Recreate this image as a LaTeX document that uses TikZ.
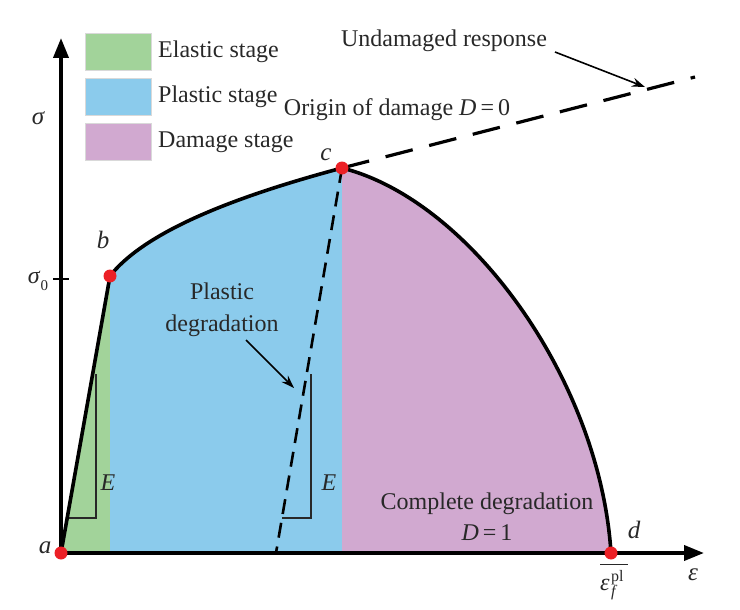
\documentclass[tikz,border=0pt]{standalone}
\usepackage{amsmath}
\usepackage{fontspec}
\setmainfont{Liberation Serif}
\usetikzlibrary{arrows.meta}
\definecolor{elastic}{RGB}{162,211,154}
\definecolor{plastic}{RGB}{139,203,236}
\definecolor{damage}{RGB}{209,169,208}
\definecolor{ptred}{RGB}{236,32,38}
\definecolor{txt}{RGB}{40,40,40}
\begin{document}
\begin{tikzpicture}[x=1pt,y=-1pt,
  lbl/.style={text=txt,font=\fontsize{24}{27}\selectfont,inner sep=0pt},
  axis/.style={line width=3.8pt,-{Triangle[length=20pt,width=15pt]}},
  curve/.style={line width=3.6pt},
  dashline/.style={line width=3.2pt},
  slope/.style={line width=1.4pt,txt},
  pointer/.style={line width=1.6pt,-{Stealth[length=13pt,width=9pt]}},
  dot/.style={circle,fill=ptred,minimum size=13pt,inner sep=0pt},
  legbox/.style={draw=white!85!black,line width=0.8pt,minimum width=66pt,minimum height=37pt,inner sep=0pt}]
\useasboundingbox (0,0) rectangle (740,610);
% key points
\coordinate (a) at (61,553);
\coordinate (b) at (110,276);
\coordinate (c) at (342,168);
\coordinate (d) at (611,553);
\coordinate (bb) at (110,553);
\coordinate (cb) at (342,553);
% fills
\fill[elastic] (a) -- (b) -- (bb) -- cycle;
\fill[plastic] (bb) -- (b) .. controls (150,225) and (260,190) .. (c) -- (cb) -- cycle;
\fill[damage] (cb) -- (c) .. controls (470,200) and (600,380) .. (d) -- cycle;
% dashed lines
\coordinate (u) at (695,77);
\coordinate (p) at (276,553);
\draw[dashline,dash pattern=on 28pt off 17pt] (c) -- (u);
\draw[dashline,line width=2.6pt,dash pattern=on 15pt off 9pt] (c) -- (p);
% slope triangles
\draw[slope] (67,518) -- (96,518) -- (96,374);
\node[lbl,font=\fontsize{24}{27}\selectfont\itshape] (e1) at (108,483) {E};
\draw[slope] (282,518) -- (311,518) -- (311,374);
\node[lbl,font=\fontsize{24}{27}\selectfont\itshape] (e2) at (329,483) {E};
% curves
\draw[curve] (a) -- (b) .. controls (150,225) and (260,190) .. (c)
  .. controls (470,200) and (600,380) .. (d);
% axes
\draw[axis] (a) -- (704,553);
\draw[axis] (a) -- (61,38);
\draw[line width=1.2pt] (53,279) -- (69,279);
% points
\node[dot] (pa) at (a) {};
\node[dot] (pb) at (b) {};
\node[dot] (pc) at (c) {};
\node[dot] (pd) at (d) {};
% point labels
\node[lbl,font=\fontsize{25}{27}\selectfont\itshape] (la) at (45,548) {a};
\node[lbl,font=\fontsize{25}{27}\selectfont\itshape] (lb) at (103,240) {b};
\node[lbl,font=\fontsize{25}{27}\selectfont\itshape] (lc) at (326,155) {c};
\node[lbl,font=\fontsize{25}{27}\selectfont\itshape] (ld) at (634,530) {d};
% axis labels
\node[lbl,font=\fontsize{25}{27}\selectfont\itshape] (sig) at (38,118) {σ};
\node[lbl] (sig0) at (38,281) {\textit{σ}\raisebox{-0.28em}{\fontsize{15}{15}\selectfont 0}};
\node[lbl,font=\fontsize{25}{27}\selectfont\itshape] (eps) at (693,575) {ε};
\node[lbl,anchor=base west] (epsf) at (600,590) {\rlap{\raisebox{25pt}{\rule{28pt}{1.3pt}}}\textit{ε}\hspace{1.5pt}\rlap{\raisebox{9pt}{\fontsize{16}{16}\selectfont pl}}\raisebox{-6pt}{\fontsize{16}{16}\selectfont\itshape f}};
% legend
\node[legbox,fill=elastic,anchor=north west] (g1) at (85,33) {};
\node[legbox,fill=plastic,anchor=north west] (g2) at (85,78) {};
\node[legbox,fill=damage,anchor=north west] (g3) at (85,123) {};
\node[lbl,anchor=west] (t1) at (158,52) {Elastic stage};
\node[lbl,anchor=west] (t2) at (158,97) {Plastic stage};
\node[lbl,anchor=west] (t3) at (158,142) {Damage stage};
% annotations
\node[lbl] (und) at (444,41) {Undamaged response};
\coordinate (ut) at (645,87);
\draw[pointer] (555,52) -- (ut);
\node[lbl] (orig) at (397,110) {Origin of damage \textit{D}\,=\,0};
\node[lbl,align=center,font=\fontsize{24}{32}\selectfont] (pdeg) at (222,310) {Plastic\\degradation};
\coordinate (pt) at (294,388);
\draw[pointer] (246,340) -- (pt);
\node[lbl,align=center,font=\fontsize{24}{31}\selectfont] (cdeg) at (487,517) {Complete degradation\\\textit{D}\,=\,1};
\end{tikzpicture}
\end{document}
